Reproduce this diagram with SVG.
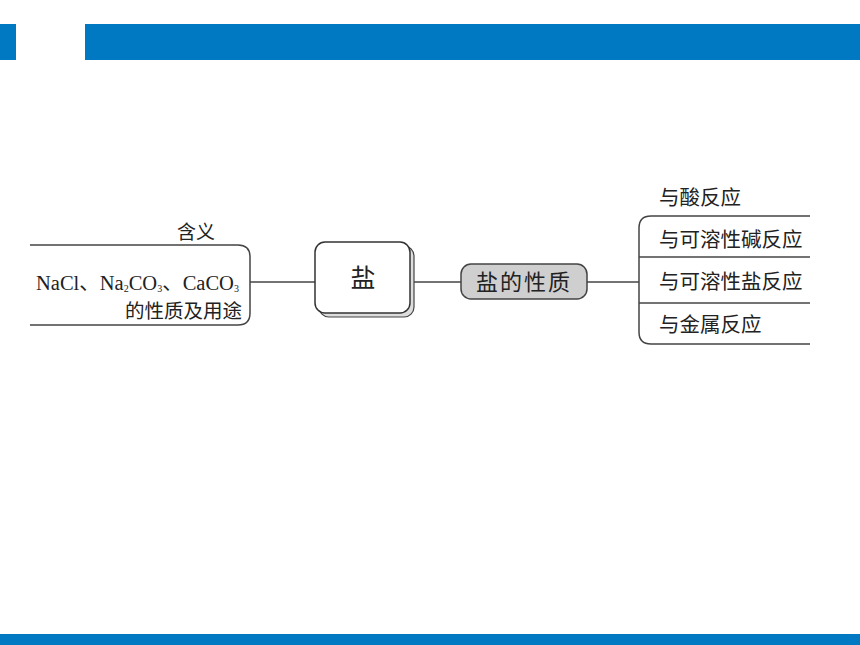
<svg xmlns="http://www.w3.org/2000/svg" width="860" height="645" viewBox="0 0 860 645">
<style>
.bar{fill:#0079C2}
.ln{fill:none;stroke:#444;stroke-width:1.5}
.sans{font-family:"Noto Sans CJK SC","Noto Sans",sans-serif;fill:#222}
.serif{font-family:"Liberation Serif","Noto Sans CJK SC",serif;fill:#222}
</style>
<rect width="860" height="645" fill="#fff"/>
<rect class="bar" x="0" y="24" width="16" height="36"/>
<rect class="bar" x="85" y="24" width="775" height="36"/>
<rect class="bar" x="0" y="634" width="860" height="11"/>
<g id="connectors">
<line class="ln" x1="250" y1="282" x2="315" y2="282"/>
<line class="ln" x1="410" y1="282" x2="461" y2="282"/>
<line class="ln" x1="587" y1="282" x2="639" y2="282"/>
</g>
<g id="left-branch">
<path class="ln" d="M30,245 H238 Q250,245 250,257 V313 Q250,325 238,325 H30"/>
<text class="sans" x="196" y="239" font-size="19" text-anchor="middle">含义</text>
<text class="serif" x="36" y="290" font-size="20.5">NaCl、Na<tspan font-size="10" dy="2">2</tspan><tspan dy="-2">CO</tspan><tspan font-size="10" dy="2">3</tspan><tspan dy="-2">、CaCO</tspan><tspan font-size="10" dy="2">3</tspan></text>
<text class="sans" x="242" y="318" font-size="19.5" text-anchor="end">的性质及用途</text>
</g>
<g id="center">
<rect x="319" y="246" width="95" height="71" rx="10" fill="#ddd" stroke="#444" stroke-width="1.2"/>
<rect x="315" y="242" width="95" height="71" rx="10" fill="#fff" stroke="#333" stroke-width="1.5"/>
<text class="sans" x="363" y="287" font-size="25" text-anchor="middle">盐</text>
</g>
<g id="properties">
<rect x="461" y="264" width="126" height="35" rx="10" fill="#cfcfcf" stroke="#444" stroke-width="1.5"/>
<text class="sans" x="524" y="290" font-size="22" text-anchor="middle" letter-spacing="2">盐的性质</text>
</g>
<g id="right-branch">
<path class="ln" d="M810,216 H651 Q639,216 639,228 V332 Q639,344 651,344 H810"/>
<line class="ln" x1="639" y1="257" x2="810" y2="257"/>
<line class="ln" x1="639" y1="303" x2="810" y2="303"/>
<text class="sans" x="659" y="205" font-size="20.5">与酸反应</text>
<text class="sans" x="659" y="247" font-size="20.5">与可溶性碱反应</text>
<text class="sans" x="659" y="289" font-size="20.5">与可溶性盐反应</text>
<text class="sans" x="659" y="332" font-size="20.5">与金属反应</text>
</g>
</svg>
